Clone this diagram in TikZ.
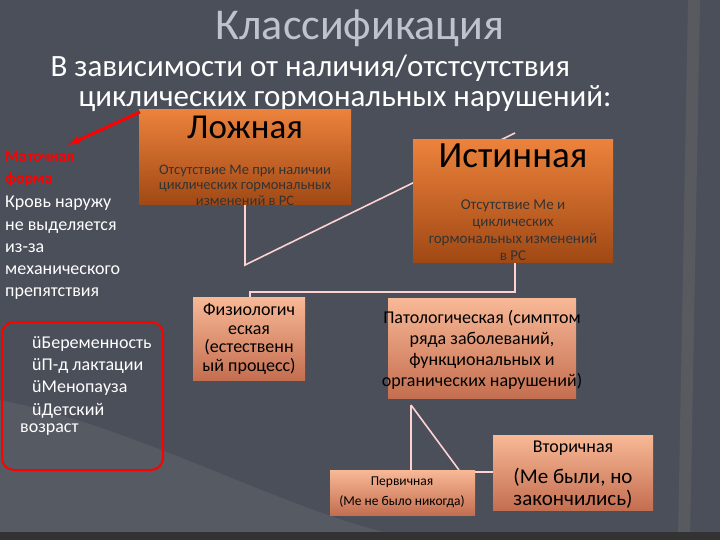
\documentclass[tikz,border=0pt]{standalone}
\usepackage{fontspec}
\setmainfont{Carlito}
\begin{document}
\begin{tikzpicture}[x=1pt,y=-1pt,
  box/.style={inner sep=0pt},
  conn/.style={draw=pink!70!white,line width=1.6pt},
  wt/.style={text=white,font=\fontsize{18}{22.3}\selectfont,align=left,anchor=north west,inner sep=0pt}]
\definecolor{bg}{RGB}{74,79,90}
\definecolor{orT}{RGB}{236,130,60}
\definecolor{orB}{RGB}{160,72,20}
\definecolor{saT}{RGB}{248,185,150}
\definecolor{saB}{RGB}{196,110,80}
\definecolor{tit}{RGB}{190,195,205}
\useasboundingbox (0,0) rectangle (720,540);
\fill[bg] (0,0) rectangle (720,540);
\fill[black!60,opacity=0.5] (688,0) -- (700,0) -- (690,540) -- (678,540) -- cycle;
\fill[black!40,opacity=0.15] (0,400) .. controls (150,430) and (300,520) .. (420,540) -- (0,540) -- cycle;
\fill[black!80] (0,532) rectangle (720,540);
% connectors (behind boxes)
\coordinate (lk) at (245,265);
\coordinate (iz) at (515,292);
\coordinate (pz) at (411,405);
\draw[conn] (245,205) -- (lk) -- (515,133);
\draw[conn] (515,262) -- (iz) -- (250,292) -- (250,297);
\draw[conn] (pz) -- (411,470);
\draw[conn] (pz) -- (459,470);
\draw[conn] (470,472) -- (495,472);
% title
\node[text=tit,font=\fontsize{44}{48}\selectfont] (title) at (360,28) {Классификация};
\node[text=white,font=\fontsize{31}{36}\selectfont,anchor=west] (sub1) at (47,68) {В зависимости от наличия/отстсутствия};
\node[text=white,font=\fontsize{31}{36}\selectfont,anchor=west] (sub2) at (75,99) {циклических гормональных нарушений:};
% boxes
\shade[top color=orT,bottom color=orB] (139,110) rectangle (351,205);
\node[inner sep=1pt] (lozh) at (245,127) {\fontsize{35}{38}\selectfont Ложная};
\node[align=center,text=black!80,font=\fontsize{14.5}{15.5}\selectfont] (lozht) at (245,185) {Отсутствие Ме при наличии\\циклических гормональных\\изменений в РС};
\shade[top color=orT,bottom color=orB] (413,140) rectangle (613,262);
\node (ist) at (513,156) {\fontsize{37}{40}\selectfont Истинная};
\node[align=center,text=black!80,font=\fontsize{15}{17}\selectfont] (istt) at (513,230) {Отсутствие Ме и\\циклических\\гормональных изменений\\в РС};
\shade[top color=saT,bottom color=saB] (193,297) rectangle (305,380);
\node[align=center,font=\fontsize{18}{18.5}\selectfont] (fiz) at (249,339) {Физиологич\\еская\\(естественн\\ый процесс)};
\shade[top color=saT,bottom color=saB] (388,298) rectangle (576,398);
\node[align=center,font=\fontsize{18}{21}\selectfont] (pat) at (482,350) {Патологическая (симптом\\ряда заболеваний,\\функциональных и\\органических нарушений)};
\shade[top color=saT,bottom color=saB] (493,435) rectangle (653,510);
\node[font=\fontsize{18}{18}\selectfont] (vt) at (573,448) {Вторичная};
\node[align=center,font=\fontsize{21}{22}\selectfont] (vtt) at (573,488) {(Ме были, но\\закончились)};
\shade[top color=saT,bottom color=saB] (330,470) rectangle (475,515);
\node[align=center,font=\fontsize{13.5}{20}\selectfont] (per) at (402,492) {Первичная\\(Ме не было никогда)};
% left text
\node[text=red,font=\bfseries\fontsize{16}{22.3}\selectfont,align=left,anchor=north west,inner sep=0pt] (mat) at (5,151) {Маточная\\форма};
\node[wt] (krov) at (5,196) {Кровь наружу\\не выделяется\\из-за\\механического\\препятствия};
\draw[red,line width=3pt,-latex] (140,112) -- (68,145);
\draw[red,line width=2pt,rounded corners=12pt] (2,322) rectangle (163,470);
\node[wt] (list) at (32,336) {üБеременность\\üП-д лактации\\üМенопауза\\üДетский};
\node[wt] (voz) at (20,424) {возраст};
\end{tikzpicture}
\end{document}
